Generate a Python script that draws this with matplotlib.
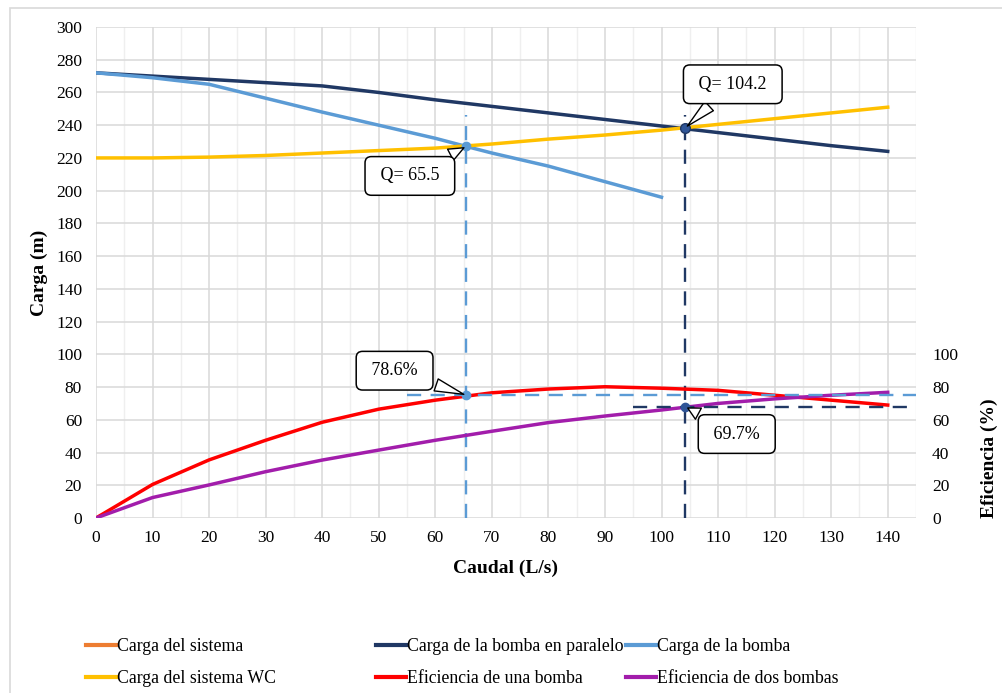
import matplotlib.pyplot as plt
from matplotlib.patches import Rectangle
from matplotlib.lines import Line2D
from matplotlib.ticker import MultipleLocator

plt.rcParams["font.family"] = ["Liberation Serif", "DejaVu Serif"]

# caudal (L/s)
q = [0, 10, 20, 30, 40, 50, 60, 70, 80, 90, 100, 110, 120, 130, 140]
q_bomba = [0, 10, 20, 30, 40, 50, 60, 65.5, 70, 80, 90, 100]

carga_paralelo = [272, 270, 268, 266, 264, 260, 255.5, 251.5, 247.5, 243.5, 239.5, 235.5, 231.5, 227.5, 224]
carga_bomba = [272, 269, 265, 256.5, 248, 240, 232, 227, 223, 215, 205.5, 196]
carga_wc = [220, 220, 220.5, 221.5, 223, 224.5, 226, 228.5, 231.5, 234, 237, 240.5, 244, 247.5, 251]
ef_una = [0, 20.5, 35.5, 47.5, 58.5, 66.5, 72, 76.5, 78.8, 80.2, 79.3, 78, 75, 72, 69]
ef_dos = [0, 12.5, 20.2, 28.3, 35.4, 41.5, 47.5, 53, 58.3, 62.3, 66, 70, 72.8, 75, 76.8]

# puntos de operacion
q_op = [65.5, 104.2]
h_op = [227, 238.3]
ef_op = [75, 68]
lbl_q = ["Q= 65.5", "Q= 104.2"]
lbl_ef = ["78.6%", "69.7%"]

c_sis = "#ED7D31"
c_par = "#203864"
c_bom = "#5B9BD5"
c_wc = "#FFC000"
c_una = "#FF0000"
c_dos = "#A21DAB"

fig = plt.figure(figsize=(10.03, 6.93), dpi=100)
fig.patches.append(Rectangle((10 / 1003, -0.1), 1.1, 1.1 - 8 / 693,
                             transform=fig.transFigure, fill=False,
                             ec="#D9D9D9", lw=1.2))
ax = fig.add_axes([96 / 1003, 1 - 518 / 693, 820 / 1003, 491 / 693])
ax2 = ax.twinx()

ax.set_xlim(0, 145)
ax.set_ylim(0, 300)
ax2.set_ylim(0, 300)
ax.xaxis.set_minor_locator(MultipleLocator(5))
ax.yaxis.set_major_locator(MultipleLocator(20))
ax.set_xticks(range(0, 150, 10))
ax.set_xticklabels([str(v) for v in range(0, 150, 10)])
ax2.set_yticks(range(0, 101, 20))
ax.grid(which="major", color="#D9D9D9", lw=1.1)
ax.grid(which="minor", axis="x", color="#EFEFEF", lw=1.0)
ax.set_axisbelow(True)
for a in (ax, ax2):
    for s in a.spines.values():
        s.set_visible(False)
ax.tick_params(axis="both", which="both", length=0, labelsize=12.5)
ax.tick_params(axis="y", pad=10)
ax.tick_params(axis="x", pad=9)
ax2.tick_params(axis="y", length=0, labelsize=12.5, pad=11.5)

lw = 2.5
ax.plot(q, carga_paralelo, color=c_par, lw=lw, zorder=3)
ax.plot(q_bomba, carga_bomba, color=c_bom, lw=lw, zorder=3)
ax.plot(q, carga_wc, color=c_wc, lw=lw, zorder=4)
ax2.plot(q, ef_una, color=c_una, lw=lw, zorder=3)
ax2.plot(q, ef_dos, color=c_dos, lw=lw, zorder=3)

# lineas de referencia
dash = (0, (6, 4))
ax.plot([q_op[0], q_op[0]], [0, 246], color=c_bom, lw=1.7, ls=dash, zorder=5)
ax.plot([q_op[1], q_op[1]], [0, 246], color=c_par, lw=1.7, ls=dash, zorder=5)
ax2.plot([55, 145], [ef_op[0], ef_op[0]], color=c_bom, lw=1.7, ls=dash, zorder=5)
ax2.plot([95, 145], [ef_op[1], ef_op[1]], color=c_par, lw=1.7, ls=dash, zorder=5)
ax.plot(q_op[0], h_op[0], "o", color=c_bom, ms=6, zorder=6)
ax.plot(q_op[1], h_op[1], "o", color=c_par, mfc="#2F5597", ms=7, zorder=6)
ax2.plot(q_op[0], ef_op[0], "o", color=c_bom, ms=6, zorder=6)
ax2.plot(q_op[1], ef_op[1], "o", color="#2F5597", ms=6, zorder=6)

box = dict(boxstyle="round,pad=0.6,rounding_size=0.35", fc="white", ec="black", lw=1.1)
arr = dict(arrowstyle="wedge,tail_width=0.7,shrink_factor=0.5", fc="white", ec="black", lw=1.0)


def callout(a, text, xy, xytext):
    a.annotate(" " + text + " ", xy=xy, xytext=xytext, ha="center", va="center",
               fontsize=13, bbox=box, arrowprops=arr, zorder=7)


callout(ax, lbl_q[0], (q_op[0], h_op[0]), (55.5, 209))
callout(ax, lbl_q[1], (q_op[1], h_op[1]), (112.6, 265))
callout(ax2, lbl_ef[0], (q_op[0], ef_op[0]), (52.8, 90))
callout(ax2, lbl_ef[1], (q_op[1], ef_op[1]), (113.3, 51.3))

ax.set_ylabel("Carga (m)", fontsize=14, fontweight="bold")
ax.yaxis.set_label_coords(-0.058, 0.5)
ax.set_xlabel("Caudal (L/s)", fontsize=14, fontweight="bold")
ax.xaxis.set_label_coords(0.5, -0.085)
ax2.set_ylabel("Eficiencia (%)", fontsize=14, fontweight="bold")
ax2.yaxis.set_label_coords(1.079, 0.122)

# leyenda en tres columnas
cols = [
    [("Carga del sistema", c_sis), ("Carga del sistema WC", c_wc)],
    [("Carga de la bomba en paralelo", c_par), ("Eficiencia de una bomba", c_una)],
    [("Carga de la bomba", c_bom), ("Eficiencia de dos bombas", c_dos)],
]
xs = [86, 376, 626]
for x0, col in zip(xs, cols):
    handles = [Line2D([], [], color=c, lw=3) for _, c in col]
    fig.legend(handles, [t for t, _ in col], loc="upper left",
               bbox_to_anchor=(x0 / 1003, 1 - 638 / 693), frameon=False,
               fontsize=12.8, handlelength=1.7, handletextpad=0.05,
               labelspacing=0.85, borderpad=0, borderaxespad=0)

fig.savefig("out.png", dpi=100)
